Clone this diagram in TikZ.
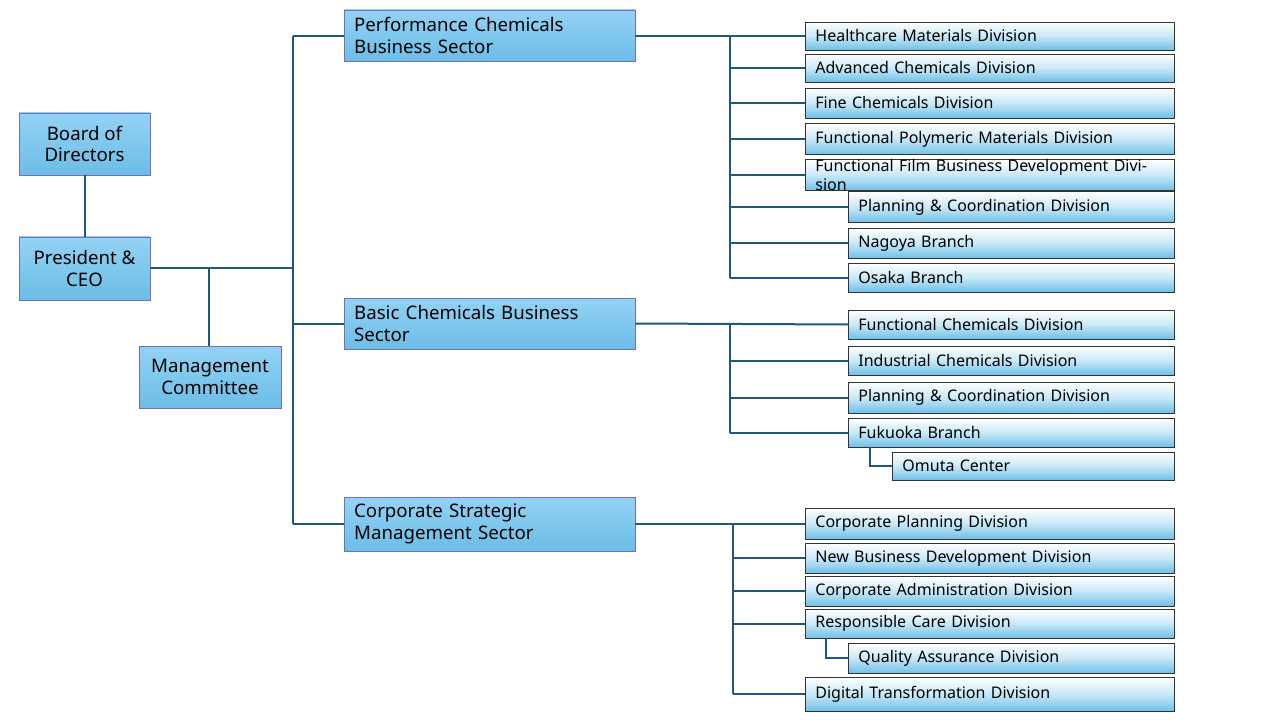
\documentclass[tikz,border=0pt]{standalone}
\usepackage{fontspec}
\setmainfont{Noto Sans}
\begin{document}
\begin{tikzpicture}[x=0.75pt,y=-0.75pt,
  big/.style={draw=blue!40!gray!80,line width=0.6pt,top color=myBigTop,bottom color=myBigBot,align=center,font=\fontsize{14}{16}\selectfont,inner sep=0pt},
  sect/.style={draw=blue!40!gray!80,line width=0.6pt,top color=myBigTop,bottom color=myBigBot,align=left,font=\fontsize{14}{16}\selectfont,inner sep=0pt,text width=270},
  div/.style={draw=black!80,line width=0.6pt,top color=white,bottom color=mySmBot,middle color=myMid,anchor=west,align=left,font=\fontsize{12}{14}\selectfont,inner xsep=7.5pt,inner ysep=0pt,text width=0},
  conn/.style={draw=myLine,line width=1.5pt}]
\definecolor{myBigTop}{HTML}{93D2F4}
\definecolor{myBigBot}{HTML}{6CBDE6}
\definecolor{mySmBot}{HTML}{6FC0E8}
\definecolor{myMid}{HTML}{C9E8F7}
\definecolor{myLine}{HTML}{1F5878}
\useasboundingbox (0,0) rectangle (1280,720);
\newcommand{\bx}[6]{\node[#1,minimum width={(#4-#2)*0.75pt},minimum height={(#5-#3)*0.75pt}] (#6) at ({(#2+#4)/2},{(#3+#5)/2}) {};}
% big boxes
\node[big,minimum width=98.25pt,minimum height=46.5pt] (bod) at (84.5,144) {Board of\\Directors};
\node[big,minimum width=98.25pt,minimum height=47.25pt] (pres) at (84.5,268.5) {President \&\\CEO};
\node[big,minimum width=106.5pt,minimum height=46.5pt] (mgmt) at (210,377) {Management\\Committee};
\node[sect,minimum width=218.25pt,minimum height=38.25pt,text width=203pt] (perf) at (489.5,35.5) {Performance Chemicals\\Business Sector};
\node[sect,minimum width=218.25pt,minimum height=38.25pt,text width=203pt] (basic) at (489.5,323.5) {Basic Chemicals Business\\Sector};
\node[sect,minimum width=218.25pt,minimum height=40.5pt,text width=203pt] (corp) at (489.5,524) {Corporate Strategic\\Management Sector};
% division boxes: left x, y mid, height
\newcommand{\dv}[5]{\node[div,minimum width={(1174-#2)*0.75pt},text width={(1174-#2)*0.75pt-15pt},minimum height={#4*0.75pt}] (#1) at (#2,#3) {#5};}
\dv{hc}{805}{36}{28}{Healthcare Materials Division}
\dv{ac}{805}{68}{28}{Advanced Chemicals Division}
\dv{fc}{805}{103}{30}{Fine Chemicals Division}
\dv{fp}{805}{139}{31}{Functional Polymeric Materials Division}
\dv{ff}{805}{175}{30}{Functional Film Business Development Division}
\dv{pc1}{848}{207}{31}{Planning \& Coordination Division}
\dv{ng}{848}{243}{30}{Nagoya Branch}
\dv{os}{848}{277.5}{29}{Osaka Branch}
\dv{fcd}{848}{324.5}{29}{Functional Chemicals Division}
\dv{ic}{848}{360.5}{29}{Industrial Chemicals Division}
\dv{pc2}{848}{397.5}{31}{Planning \& Coordination Division}
\dv{fk}{848}{432.5}{29}{Fukuoka Branch}
\dv{om}{892}{466}{28}{Omuta Center}
\dv{cp}{805}{523.5}{31}{Corporate Planning Division}
\dv{nb}{805}{558}{30}{New Business Development Division}
\dv{ca}{805}{591}{30}{Corporate Administration Division}
\dv{rc}{805}{623.5}{29}{Responsible Care Division}
\dv{qa}{848}{658}{30}{Quality Assurance Division}
\dv{dt}{805}{694}{34}{Digital Transformation Division}
% connectors
\draw[conn] (bod) -- (pres);
\coordinate (trT) at (293,36);
\coordinate (trB) at (293,523.5);
\coordinate (pj) at (293,268);
\coordinate (mj) at (209,268);
\draw[conn] (pres.east |- pj) -- (pj);
\draw[conn] (mj) -- (mgmt.north -| mj);
\draw[conn] (trT) -- (trB);
\draw[conn] (trT) -- (perf.west |- trT);
\draw[conn] (293,323.5) -- (basic.west);
\draw[conn] (trB) -- (corp.west |- trB);
% perf
\coordinate (pv) at (730,36);
\draw[conn] (perf.east |- pv) -- (hc.west);
\draw[conn] (pv) -- (730,277.5);
\foreach \n in {ac,fc,fp,ff,pc1,ng,os} \draw[conn] (730,0 |- \n.west) -- (\n.west);
% basic
\draw[conn] (basic.east) -- (fcd.west);
\draw[conn] (730,324.5) -- (730,432.5);
\foreach \n in {ic,pc2,fk} \draw[conn] (730,0 |- \n.west) -- (\n.west);
\draw[conn] (870,0 |- fk.south) -- (870,466) -- (om.west);
% corp
\draw[conn] (corp.east |- cp.west) -- (cp.west);
\draw[conn] (733,523.5) -- (733,694);
\foreach \n in {nb,ca,rc,dt} \draw[conn] (733,0 |- \n.west) -- (\n.west);
\draw[conn] (826,0 |- rc.south) -- (826,658) -- (qa.west);
\end{tikzpicture}
\end{document}
